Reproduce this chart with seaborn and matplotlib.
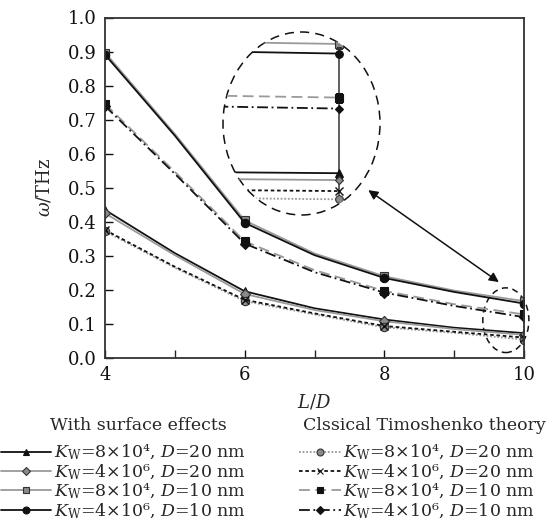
import numpy as np
import pandas as pd
import seaborn as sns
import matplotlib.pyplot as plt
from matplotlib.patches import Ellipse
from matplotlib.lines import Line2D

# L/D values (markers only at 4, 6, 8, 10; 5, 7, 9)
L = [4, 5, 6, 7, 8, 9, 10]

# with surface effects
s_d20_k8e4 = [0.435, 0.308, 0.196, 0.146, 0.113, 0.089, 0.073]
s_d20_k4e6 = [0.425, 0.302, 0.188, 0.141, 0.108, 0.085, 0.068]
s_d10_k8e4 = [0.897, 0.658, 0.404, 0.307, 0.240, 0.198, 0.167]
s_d10_k4e6 = [0.891, 0.653, 0.397, 0.302, 0.235, 0.194, 0.160]

# classical Timoshenko theory
c_d20_k8e4 = [0.372, 0.265, 0.167, 0.128, 0.090, 0.074, 0.054]
c_d20_k4e6 = [0.376, 0.268, 0.171, 0.131, 0.094, 0.077, 0.060]
c_d10_k8e4 = [0.746, 0.547, 0.343, 0.258, 0.197, 0.158, 0.128]
c_d10_k4e6 = [0.740, 0.541, 0.336, 0.252, 0.192, 0.153, 0.120]

lab_k8_d20 = r"$K_{\rm W}$=8×10⁴, $D$=20 nm"
lab_k4_d20 = r"$K_{\rm W}$=4×10⁶, $D$=20 nm"
lab_k8_d10 = r"$K_{\rm W}$=8×10⁴, $D$=10 nm"
lab_k4_d10 = r"$K_{\rm W}$=4×10⁶, $D$=10 nm"

sns.set_style("ticks")
plt.rcParams['font.family'] = ['DejaVu Serif']
plt.rcParams['mathtext.fontset'] = 'dejavuserif'

BK = '#111111'
GR = '#9a9a9a'
GM = '#8a8a8a'

# (values, label, line colour, linestyle, marker, marker face)
surface = [
    (s_d20_k8e4, lab_k8_d20, BK, '-', '^', BK),
    (s_d20_k4e6, lab_k4_d20, GR, '-', 'D', GM),
    (s_d10_k8e4, lab_k8_d10, GR, '-', 's', GM),
    (s_d10_k4e6, lab_k4_d10, BK, '-', 'o', BK),
]
classical = [
    (c_d20_k8e4, lab_k8_d20, GR, (0, (1, 1)), 'o', GM),
    (c_d20_k4e6, lab_k4_d20, BK, (0, (2, 1.5)), 'x', BK),
    (c_d10_k8e4, lab_k8_d10, GR, (0, (6, 3)), 's', BK),
    (c_d10_k4e6, lab_k4_d10, BK, (0, (6, 2, 1, 2)), 'D', BK),
]

fig = plt.figure(figsize=(5.59, 5.30), dpi=100)
ax = fig.add_axes([105 / 559, 1 - 358 / 530, 419 / 559, 340.5 / 530])


def draw(a, group, ms):
    handles = []
    for vals, lab, col, ls, mk, mf in group:
        df = pd.DataFrame({'L': L, 'w': vals})
        sns.lineplot(data=df, x='L', y='w', ax=a, color=col, linestyle=ls,
                     linewidth=1.3, marker=mk, markersize=ms if mk != 'D' else ms - 1,
                     markerfacecolor=mf, markeredgecolor='#333333' if mf == GM else BK,
                     markeredgewidth=0.8 if mk != 'x' else 1.0,
                     markevery=[0, 2, 4, 6], legend=False)
        handles.append(Line2D([], [], color=col, linestyle=ls, linewidth=1.3, marker=mk,
                              markersize=5 if mk != 'D' else 4, markerfacecolor=mf,
                              markeredgecolor='#333333' if mf == GM else BK,
                              markeredgewidth=0.8, label=lab))
    return handles


h_s = draw(ax, surface, 6)
h_c = draw(ax, classical, 6)

ax.set_xlim(4, 10)
ax.set_ylim(0, 1.0)
ax.set_xticks([4, 6, 8, 10])
ax.set_xticks([5, 7, 9], minor=True)
ax.set_yticks(np.arange(0, 1.01, 0.1))
ax.yaxis.set_major_formatter(plt.FormatStrFormatter('%.1f'))
ax.tick_params(direction='in', labelsize=13, length=6, width=1, colors=BK, pad=6)
ax.tick_params(which='minor', direction='in', length=6, width=1)
for sp in ax.spines.values():
    sp.set_visible(True)
    sp.set_linewidth(1.3)
    sp.set_color('#333333')
ax.set_xlabel(r"$L$/$D$", fontsize=13, labelpad=6)
ax.set_ylabel(r"$\omega$/THz", fontsize=13, labelpad=10)

# small dashed ellipse around the L/D=10 cluster
ax.add_patch(Ellipse((9.74, 0.111), 0.66, 0.19, fill=False, ls=(0, (4, 3)),
                     lw=1.1, ec=BK, clip_on=False))
ax.annotate('', xy=(9.64, 0.223), xytext=(7.77, 0.493),
            arrowprops=dict(arrowstyle='<|-|>', color=BK, lw=1.1,
                            mutation_scale=14, shrinkA=0, shrinkB=0))

# magnified view of the cluster at L/D=10
axi = fig.add_axes([223 / 559, 1 - 215 / 530, 157 / 559, 183 / 530])
axi.set_facecolor('none')
axi.plot([10, 10], [min(c_d20_k8e4[-1], s_d20_k4e6[-1]), s_d10_k8e4[-1]],
         color='#444444', lw=1.2, zorder=1)
draw(axi, surface, 5.5)
draw(axi, classical, 5.5)
axi.set_xlim(9.957, 10.015)
axi.set_ylim(0.0426, 0.1757)
axi.axis('off')
ell = Ellipse((0.5, 0.5), 1.0, 1.0, transform=axi.transAxes, fill=False,
              ls=(0, (6, 4)), lw=1.1, ec=BK, clip_on=False)
axi.add_patch(ell)
for ln in axi.lines:
    ln.set_clip_path(ell)

leg_kw = dict(frameon=False, fontsize=12.5, handletextpad=0.15, labelspacing=0.0,
              borderpad=0, borderaxespad=0)
fig.text(138 / 559, 1 - 425 / 530, "With surface effects", fontsize=12.5,
         ha='center', va='center')
fig.text(424 / 559, 1 - 425 / 530, "Clssical Timoshenko theory", fontsize=12.5,
         ha='center', va='center')
fig.legend(handles=h_s, loc='upper left', handlelength=2.9,
           bbox_to_anchor=(1 / 559, 1 - 443 / 530), **leg_kw)
fig.legend(handles=h_c, loc='upper left', handlelength=2.4,
           bbox_to_anchor=(299 / 559, 1 - 443 / 530), **leg_kw)

fig.savefig('out.png', dpi=100)
